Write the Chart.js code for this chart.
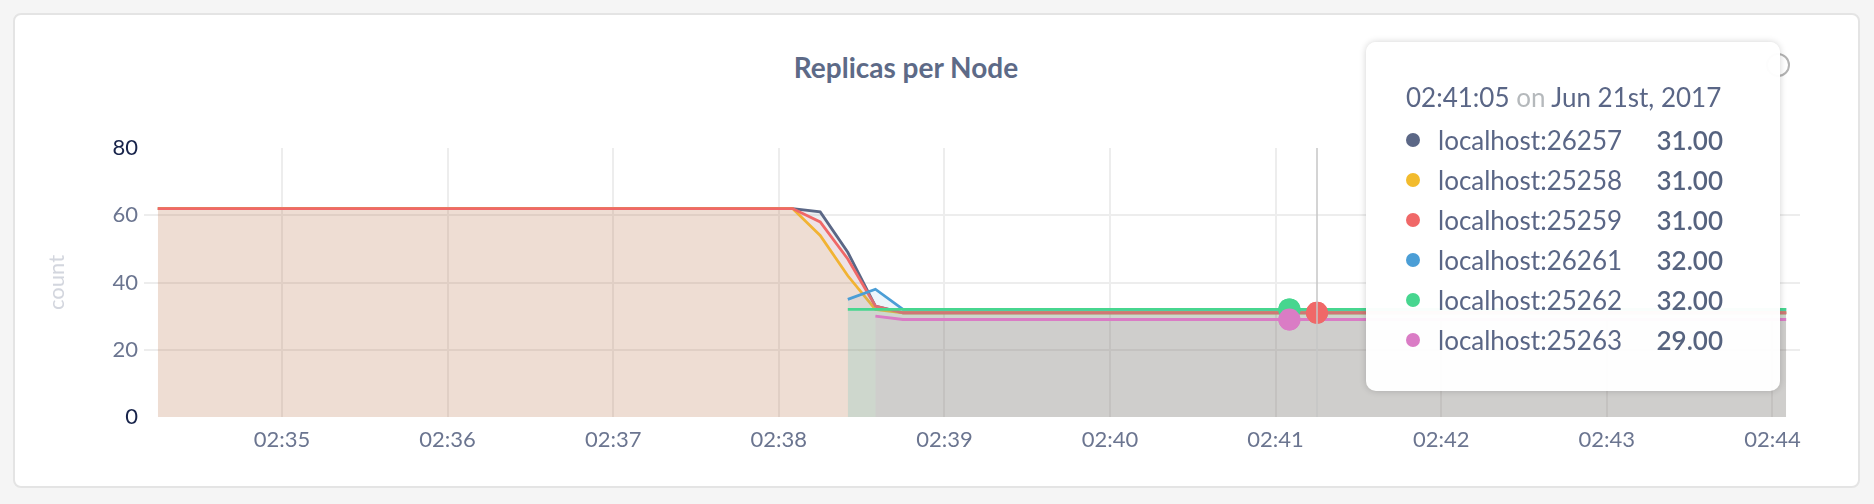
<!DOCTYPE html>
<html>
<head>
<meta charset="utf-8">
<script src="https://cdn.jsdelivr.net/npm/chart.js@4.4.1/dist/chart.umd.min.js"></script>
<style>
  html, body { margin: 0; padding: 0; background: #f5f5f5; width: 1874px; height: 504px; overflow: hidden; font-family: Lato, "Open Sans", sans-serif; }
  #card { position: absolute; left: 13px; top: 13px; width: 1843px; height: 471px; background: #fff; border: 2px solid #e4e4e4; border-radius: 8px; }
  #title { position: absolute; left: 0; top: 47px; width: 1812px; text-align: center; font: bold 28px Lato, sans-serif; line-height: 40px; color: #5d6a87; }
  #info { position: absolute; left: 1766px; top: 53px; width: 20px; height: 20px; border: 2px solid #b3b3b3; border-radius: 50%; }
  #wrap { position: absolute; left: 0; top: 0; width: 1874px; height: 504px; }
  #tt { position: absolute; left: 1366px; top: 42px; width: 414px; height: 349px; box-sizing: border-box;
        background: rgba(255,255,255,0.97); border-radius: 10px; box-shadow: 0 0 7px rgba(0,0,0,0.18);
        padding: 35px 57px 0 40px; font-family: Lato, sans-serif; color: #5a6686; pointer-events: none; }
  #tt .ttl { font-size: 26px; line-height: 40px; height: 40px; white-space: nowrap; color: #5a6686; }
  #tt .ttl .on { color: #b5b9bc; }
  #tt .row { display: flex; align-items: center; height: 40px; margin-top: 0; font-size: 26px; white-space: nowrap; }
  #tt .rows { margin-top: 3px; }
  #tt .dot { width: 14px; height: 14px; border-radius: 50%; margin-right: 18px; flex: none; }
  #tt .lab { flex: 1; }
  #tt .val { font-weight: 600; color: #56637f; }
</style>
</head>
<body>
<div id="card"></div>
<div id="title">Replicas per Node</div>
<div id="info"></div>
<div id="wrap"><canvas id="c" width="1874" height="504"></canvas></div>
<div id="tt"></div>
<script>
// ---- data ----
const times = [
  '02:34:15','02:34:25','02:34:35','02:34:45','02:34:55',
  '02:35:05','02:35:15','02:35:25','02:35:35','02:35:45','02:35:55',
  '02:36:05','02:36:15','02:36:25','02:36:35','02:36:45','02:36:55',
  '02:37:05','02:37:15','02:37:25','02:37:35','02:37:45','02:37:55',
  '02:38:05','02:38:15','02:38:25','02:38:35','02:38:45','02:38:55',
  '02:39:05','02:39:15','02:39:25','02:39:35','02:39:45','02:39:55',
  '02:40:05','02:40:15','02:40:25','02:40:35','02:40:45','02:40:55',
  '02:41:05','02:41:15','02:41:25','02:41:35','02:41:45','02:41:55',
  '02:42:05','02:42:15','02:42:25','02:42:35','02:42:45','02:42:55',
  '02:43:05','02:43:15','02:43:25','02:43:35','02:43:45','02:43:55',
  '02:44:05'
];
const seriesNames = ['localhost:26257','localhost:25258','localhost:25259','localhost:26261','localhost:25262','localhost:25263'];
const seriesColors = ['#5b6786','#f2bb2d','#f06868','#4b9ed6','#47d68f','#da7cc5'];
const node26257 = [
  62,62,62,62,62,62,62,62,62,62,
  62,62,62,62,62,62,62,62,62,62,
  62,62,62,62,61,49,33,31,31,31,
  31,31,31,31,31,31,31,31,31,31,
  31,31,31,31,31,31,31,31,31,31,
  31,31,31,31,31,31,31,31,31,31
];
const node25258 = [
  62,62,62,62,62,62,62,62,62,62,
  62,62,62,62,62,62,62,62,62,62,
  62,62,62,62,54,42,32,31,31,31,
  31,31,31,31,31,31,31,31,31,31,
  31,31,31,31,31,31,31,31,31,31,
  31,31,31,31,31,31,31,31,31,31
];
const node25259 = [
  62,62,62,62,62,62,62,62,62,62,
  62,62,62,62,62,62,62,62,62,62,
  62,62,62,62,58,47,33,31,31,31,
  31,31,31,31,31,31,31,31,31,31,
  31,31,31,31,31,31,31,31,31,31,
  31,31,31,31,31,31,31,31,31,31
];
const node26261 = [
  null,null,null,null,null,null,null,null,null,null,
  null,null,null,null,null,null,null,null,null,null,
  null,null,null,null,null,35,38,32,32,32,
  32,32,32,32,32,32,32,32,32,32,
  32,32,32,32,32,32,32,32,32,32,
  32,32,32,32,32,32,32,32,32,32
];
const node25262 = [
  null,null,null,null,null,null,null,null,null,null,
  null,null,null,null,null,null,null,null,null,null,
  null,null,null,null,null,32,32,32,32,32,
  32,32,32,32,32,32,32,32,32,32,
  32,32,32,32,32,32,32,32,32,32,
  32,32,32,32,32,32,32,32,32,32
];
const node25263 = [
  null,null,null,null,null,null,null,null,null,null,
  null,null,null,null,null,null,null,null,null,null,
  null,null,null,null,null,null,30,29,29,29,
  29,29,29,29,29,29,29,29,29,29,
  29,29,29,29,29,29,29,29,29,29,
  29,29,29,29,29,29,29,29,29,29
];
const seriesValues = [node26257, node25258, node25259, node26261, node25262, node25263];
const drawOrder = [6, 5, 4, 3, 2, 1];
const xTickLabels = ['02:35','02:36','02:37','02:38','02:39','02:40','02:41','02:42','02:43','02:44'];
const yTickValues = [0, 20, 40, 60, 80];
const xRange = ['02:34:10', '02:44:10'];
const dateLabel = 'Jun 21st, 2017';
const hoverTime = '02:41:05';
const hoverLineTime = '02:41:15';

// ---- helpers ----
function secs(s) { const p = s.split(':').map(Number); return p[0]*3600 + p[1]*60 + (p[2] || 0); }
function hexA(hex, a) {
  const n = parseInt(hex.slice(1), 16);
  return `rgba(${(n>>16)&255},${(n>>8)&255},${n&255},${a})`;
}
const xs = times.map(secs);
const xTickVals = xTickLabels.map(secs);

const datasets = seriesNames.map((name, k) => ({
  label: name,
  data: seriesValues[k].map((v, i) => ({ x: xs[i], y: v })),
  borderColor: seriesColors[k],
  backgroundColor: hexA(seriesColors[k], 0.1),
  fill: 'origin',
  borderWidth: 2.8,
  tension: 0,
  pointRadius: 0,
  pointHoverRadius: 11,
  pointHoverBorderWidth: 0,
  pointBackgroundColor: seriesColors[k],
  pointHoverBackgroundColor: seriesColors[k],
  order: drawOrder[k]
}));

// redraw the hovered points above all lines, then the hover rule
const hoverLine = {
  id: 'hoverLine',
  afterDatasetsDraw(chart) {
    const ctx = chart.ctx;
    chart.getActiveElements().forEach(a => {
      const el = chart.getDatasetMeta(a.datasetIndex).data[a.index];
      if (el) el.draw(ctx, chart.chartArea);
    });
    const x = chart.scales.x.getPixelForValue(secs(hoverLineTime));
    const { top, bottom } = chart.chartArea;
    ctx.save();
    ctx.strokeStyle = '#c6c6c6';
    ctx.lineWidth = 1.5;
    ctx.beginPath();
    ctx.moveTo(x, top);
    ctx.lineTo(x, bottom);
    ctx.stroke();
    ctx.restore();
  }
};

function externalTooltip(context) {
  const tt = context.tooltip;
  const el = document.getElementById('tt');
  if (!tt.dataPoints || !tt.dataPoints.length) { el.style.display = 'none'; return; }
  el.style.display = 'block';
  const pts = tt.dataPoints.slice().sort((a, b) => a.datasetIndex - b.datasetIndex);
  const t = times[pts[0].dataIndex];
  let html = `<div class="ttl">${t} <span class="on">on</span> ${dateLabel}</div><div class="rows">`;
  pts.forEach(p => {
    html += `<div class="row"><span class="dot" style="background:${p.dataset.borderColor}"></span>` +
            `<span class="lab">${p.dataset.label}</span><span class="val">${Number(p.raw.y).toFixed(2)}</span></div>`;
  });
  html += '</div>';
  el.innerHTML = html;
}

const chart = new Chart(document.getElementById('c'), {
  type: 'line',
  data: { datasets },
  plugins: [hoverLine],
  options: {
    responsive: false,
    animation: false,
    events: [],
    layout: { padding: { left: 40, top: 148, right: 74, bottom: 47 } },
    interaction: { mode: 'index', intersect: false },
    plugins: {
      legend: { display: false },
      title: { display: false },
      tooltip: { enabled: false, animation: false, external: externalTooltip }
    },
    scales: {
      x: {
        type: 'linear',
        min: secs(xRange[0]),
        max: secs(xRange[1]),
        border: { display: false },
        grid: { color: '#ededed', lineWidth: 2, drawTicks: false },
        afterBuildTicks: (scale) => { scale.ticks = xTickVals.map(v => ({ value: v })); },
        afterFit: (scale) => { scale.height = 40; },
        ticks: {
          padding: 10,
          maxRotation: 0,
          autoSkip: false,
          color: '#6b7590',
          font: { family: 'Lato', size: 22 },
          callback: (v) => xTickLabels[xTickVals.indexOf(v)]
        }
      },
      y: {
        min: 0,
        max: 80,
        border: { display: false },
        afterBuildTicks: (scale) => { scale.ticks = yTickValues.map(v => ({ value: v })); },
        afterFit: (scale) => { scale.width = 104; },
        grid: {
          lineWidth: 2,
          drawTicks: false,
          color: (c) => (c.tick && (c.tick.value === 0 || c.tick.value === 80)) ? 'rgba(0,0,0,0)' : '#ededed'
        },
        title: {
          display: true,
          text: 'count',
          color: '#d3d6de',
          font: { family: 'Lato', size: 22 },
          padding: { top: 4, bottom: 4 }
        },
        ticks: {
          padding: 6,
          color: (c) => (c.tick && (c.tick.value === 0 || c.tick.value === 80)) ? '#17234a' : '#6b7590',
          font: { family: 'Lato', size: 22 }
        }
      }
    }
  }
});

const hoverIdx = times.indexOf(hoverTime);
const hoverLineIdx = times.indexOf(hoverLineTime);
chart.setActiveElements([
  { datasetIndex: 4, index: hoverIdx },
  { datasetIndex: 5, index: hoverIdx },
  { datasetIndex: 2, index: hoverLineIdx }
]);
const ttActive = seriesNames.map((_, k) => ({ datasetIndex: k, index: hoverIdx }));
chart.tooltip.setActiveElements(ttActive, { x: chart.scales.x.getPixelForValue(secs(hoverTime)), y: 300 });
chart.update();
</script>
</body>
</html>
